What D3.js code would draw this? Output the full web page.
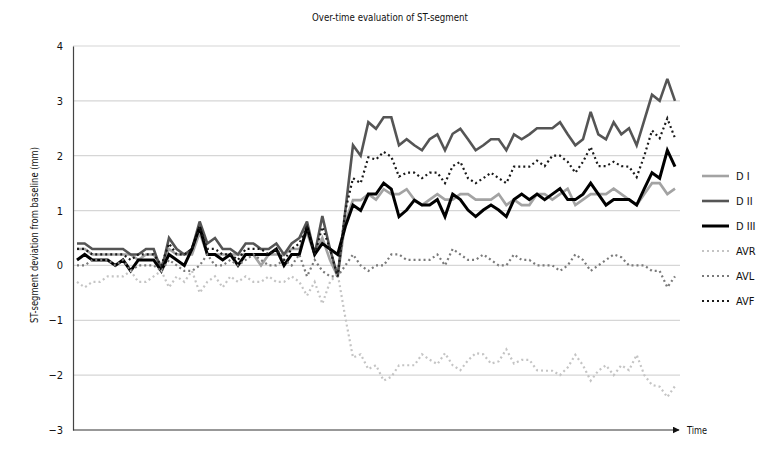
<!DOCTYPE html>
<html><head><meta charset="utf-8">
<script src="https://cdn.jsdelivr.net/npm/d3@7"></script>
<style>
html,body{margin:0;padding:0;background:#fff;}
text{font-family:"DejaVu Sans Condensed","Liberation Sans Narrow","Arial Narrow",sans-serif;fill:#111;}
</style></head>
<body><svg id="c" width="780" height="456"></svg>
<script>
const title = "Over-time evaluation of ST-segment";
const yTitle = "ST-segment deviation from baseline (mm)";
const xTitle = "Time";
const yTicks = [4,3,2,1,0,-1,-2,-3];
const seriesNames = ["D I","D II","D III","AVR","AVL","AVF"];

const dI = [0.3,0.3,0.2,0.2,0.2,0.2,0.2,0.2,0.1,0.2,0.2,0.0,0.3,0.2,0.2,0.2,0.6,0.2,0.2,0.2,0.2,0.2,0.2,0.2,0.0,0.2,0.2,0.2,0.3,0.3,0.6,0.2,0.5,0.1,-0.2,
 0.8,1.19,1.19,1.3,1.2,1.39,1.3,1.3,1.39,1.2,1.1,1.2,1.3,1.2,1.2,1.3,1.3,1.2,1.2,1.2,1.3,1.1,1.2,1.1,1.1,1.3,1.3,1.2,1.3,1.4,1.1,1.2,1.3,1.3,1.3,1.4,1.3,1.2,1.1,1.3,1.5,1.5,1.3,1.4];
const dII = [0.4,0.4,0.3,0.3,0.3,0.3,0.3,0.2,0.2,0.3,0.3,-0.1,0.5,0.3,0.2,0.3,0.8,0.4,0.5,0.3,0.3,0.2,0.4,0.4,0.3,0.3,0.4,0.2,0.4,0.5,0.8,0.2,0.9,0.3,-0.2,
 1.0,2.19,2.0,2.61,2.49,2.7,2.7,2.19,2.3,2.19,2.1,2.3,2.39,2.1,2.4,2.49,2.3,2.1,2.19,2.3,2.3,2.1,2.39,2.3,2.39,2.5,2.5,2.5,2.61,2.39,2.19,2.3,2.8,2.39,2.3,2.61,2.39,2.5,2.19,2.65,3.11,3.0,3.4,3.0];
const dIII = [0.1,0.2,0.1,0.1,0.1,0.0,0.1,-0.1,0.1,0.1,0.1,-0.1,0.2,0.1,0.0,0.3,0.7,0.2,0.2,0.1,0.2,0.0,0.2,0.2,0.2,0.2,0.3,0.0,0.2,0.2,0.7,0.2,0.4,0.3,0.2,
 0.71,1.1,1.0,1.3,1.3,1.5,1.39,0.89,1.01,1.19,1.1,1.1,1.2,0.89,1.3,1.2,1.01,0.89,1.01,1.1,1.01,0.89,1.2,1.3,1.2,1.3,1.2,1.3,1.4,1.2,1.2,1.3,1.5,1.3,1.1,1.2,1.2,1.2,1.1,1.4,1.69,1.59,2.1,1.8];
const aVR = [-0.3,-0.4,-0.3,-0.3,-0.2,-0.2,-0.2,-0.1,-0.3,-0.3,-0.2,-0.1,-0.4,-0.2,-0.3,-0.1,-0.5,-0.3,-0.2,-0.4,-0.2,-0.3,-0.2,-0.3,-0.3,-0.2,-0.3,-0.3,-0.2,-0.3,-0.55,-0.3,-0.7,-0.3,-0.15,
 -0.95,-1.68,-1.62,-1.89,-1.82,-2.1,-2.03,-1.82,-1.82,-1.82,-1.62,-1.72,-1.8,-1.6,-1.82,-1.91,-1.73,-1.6,-1.62,-1.79,-1.75,-1.53,-1.79,-1.72,-1.72,-1.91,-1.92,-1.92,-2.0,-1.86,-1.63,-1.82,-2.1,-1.92,-1.82,-2.0,-1.82,-1.91,-1.63,-2.0,-2.18,-2.21,-2.4,-2.2];
const aVL = [0.0,0.0,0.1,0.1,0.1,0.0,0.1,-0.1,0.0,0.0,0.0,-0.1,0.1,0.0,-0.1,-0.1,0.0,0.2,0.0,0.0,0.1,0.0,0.1,0.2,0.1,0.0,0.0,0.1,0.0,0.2,-0.2,0.1,-0.1,-0.2,-0.2,
 0.0,0.2,0.0,-0.1,0.0,0.0,0.2,0.2,0.1,0.1,0.1,0.1,0.2,0.0,0.3,0.2,0.1,0.1,0.2,0.1,0.0,0.0,0.2,0.1,0.1,0.0,0.0,0.0,-0.1,0.0,0.2,0.1,-0.1,0.0,0.1,0.2,0.15,0.0,0.0,0.0,-0.1,-0.1,-0.4,-0.2];
const aVF = [0.3,0.3,0.2,0.2,0.2,0.2,0.2,0.1,0.2,0.2,0.2,0.0,0.4,0.2,0.2,0.3,0.7,0.3,0.3,0.2,0.2,0.1,0.3,0.3,0.3,0.2,0.3,0.1,0.3,0.4,0.7,0.2,0.7,0.3,-0.2,
 1.0,1.59,1.5,1.97,1.93,2.07,1.98,1.62,1.69,1.69,1.59,1.69,1.69,1.5,1.81,1.89,1.59,1.5,1.59,1.69,1.59,1.5,1.8,1.8,1.8,1.91,1.81,2.0,2.0,1.89,1.69,1.89,2.16,1.81,1.81,1.89,1.81,1.8,1.61,2.0,2.46,2.32,2.68,2.32];

const seriesValues = [dI,dII,dIII,aVR,aVL,aVF];
const styles = [
  {color:"#a3a3a3", width:2.6, dash:null},
  {color:"#555555", width:2.6, dash:null},
  {color:"#000000", width:3, dash:null},
  {color:"#c4c4c4", width:2.2, dash:"2,3"},
  {color:"#7a7a7a", width:2.2, dash:"2,3"},
  {color:"#1a1a1a", width:2.2, dash:"2,3"}
];

const svg = d3.select("#c");
const N = dI.length;
const x = d3.scaleLinear().domain([0, N-1]).range([77, 675]);
const y = d3.scaleLinear().domain([-3, 4]).range([430, 46]);
const plotL = 73, plotR = 680;

// gridlines
svg.append("g").selectAll("line").data(yTicks.filter(t=>t>-3)).join("line")
  .attr("x1", plotL).attr("x2", plotR)
  .attr("y1", d=>y(d)).attr("y2", d=>y(d))
  .attr("stroke", "#d6d6d6").attr("stroke-width", 1.2);

// y axis
const yAxis = d3.axisLeft(y).tickValues(yTicks).tickSize(0).tickPadding(10).tickFormat(d3.format("d"));
const ga = svg.append("g").attr("transform", `translate(${plotL},0)`).call(yAxis);
ga.select(".domain").attr("stroke", "#444").attr("stroke-width", 1.2);
ga.selectAll("text").attr("font-size", 11).attr("font-family", null).style("fill","#111");

// x axis with arrow
const defs = svg.append("defs");
defs.append("marker").attr("id","arr").attr("viewBox","0 0 10 10").attr("refX",9).attr("refY",5)
  .attr("markerWidth",7).attr("markerHeight",7).attr("markerUnits","userSpaceOnUse").attr("orient","auto")
  .append("path").attr("d","M0,0 L10,5 L0,10 z").attr("fill","#111");
svg.append("line").attr("x1", plotL).attr("x2", 679).attr("y1", y(-3)).attr("y2", y(-3))
  .attr("stroke","#333").attr("stroke-width",1.2).attr("marker-end","url(#arr)");
svg.append("text").attr("x", 687).attr("y", y(-3)+4).attr("font-size", 11)
  .attr("textLength", 20).attr("lengthAdjust","spacingAndGlyphs").text(xTitle);

// titles
svg.append("text").attr("x", 390).attr("y", 21).attr("text-anchor","middle").attr("font-size", 11)
  .attr("textLength", 156).attr("lengthAdjust","spacingAndGlyphs").text(title);
svg.append("text").attr("transform", `translate(38,${(y(4)+y(-3))/2 - 3}) rotate(-90)`)
  .attr("text-anchor","middle").attr("font-size", 11)
  .attr("textLength", 176).attr("lengthAdjust","spacingAndGlyphs").text(yTitle);

// lines
const line = d3.line().x((d,i)=>x(i)).y(d=>y(d));
const lg = svg.append("g");
seriesValues.forEach((vals, k) => {
  const s = styles[k];
  const p = lg.append("path").datum(vals).attr("d", line)
    .attr("fill","none").attr("stroke", s.color).attr("stroke-width", s.width)
    .attr("stroke-linejoin","miter").attr("stroke-miterlimit", 3);
  if (s.dash) p.attr("stroke-dasharray", s.dash);
});

// legend
const leg = svg.append("g");
seriesNames.forEach((name, k) => {
  const s = styles[k];
  const yy = 176 + k*25;
  const l = leg.append("line").attr("x1", 702).attr("x2", 729).attr("y1", yy).attr("y2", yy)
    .attr("stroke", s.color).attr("stroke-width", s.width);
  if (s.dash) l.attr("stroke-dasharray", s.dash);
  leg.append("text").attr("x", 736).attr("y", yy+4).attr("font-size", 11).text(name);
});
</script></body></html>
